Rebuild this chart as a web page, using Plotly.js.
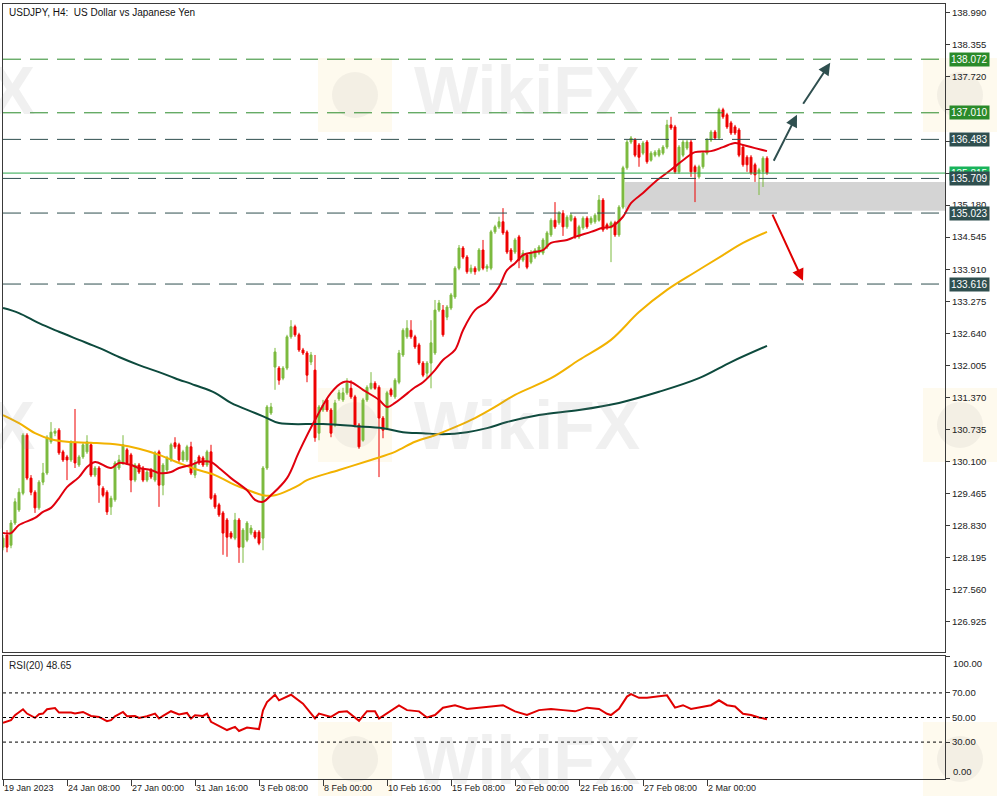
<!DOCTYPE html>
<html><head><meta charset="utf-8">
<script src="https://cdn.plot.ly/plotly-3.0.1.min.js"></script>
<style>body{margin:0;background:#fff}</style>
</head><body><div id="chart" style="width:1000px;height:800px"></div>
<script>
// ---- data ----
const openP = [
128.40,128.64,128.44,128.88,129.14,129.47,130.62,129.77,129.49,129.18,
129.69,129.87,130.49,130.66,130.72,130.29,130.19,130.13,130.47,130.03,
130.19,130.29,130.43,129.83,129.97,129.57,129.49,129.20,129.34,129.97,
130.07,130.33,130.23,129.73,130.03,129.97,129.73,129.93,129.73,130.29,
129.63,129.93,130.13,130.47,130.43,130.13,130.13,130.39,129.83,130.19,
130.17,130.03,130.29,129.43,129.24,129.08,128.94,128.68,128.58,128.94,
128.40,128.54,128.68,128.70,128.70,128.58,129.97,131.06,131.97,131.95,
131.75,131.95,132.57,132.77,132.61,132.31,132.25,132.07,131.91,130.66,
131.12,131.32,131.12,130.82,131.34,131.32,131.46,131.55,131.38,130.82,
130.52,131.32,131.55,131.65,131.57,130.96,130.76,131.52,131.38,131.67,
132.21,132.57,132.70,132.57,132.41,132.05,131.85,132.05,132.25,133.10,
133.10,132.96,133.14,133.36,133.93,134.33,134.15,133.86,133.93,133.89,
134.29,133.93,133.93,134.65,134.75,134.85,134.65,134.29,134.25,134.55,
134.09,134.19,134.05,134.15,134.23,134.23,134.35,134.59,134.88,134.83,
135.02,134.75,134.88,134.92,134.55,134.73,134.92,134.83,134.85,134.88,
135.28,134.79,134.73,134.83,134.59,135.14,135.92,136.43,136.47,136.37,
136.21,136.43,136.07,136.17,136.17,136.21,136.33,136.77,136.73,135.84,
136.17,136.31,136.43,135.94,135.74,135.94,136.21,136.47,136.63,136.51,
137.07,136.97,136.81,136.73,136.67,136.33,136.13,136.13,135.98,135.82,
135.84,136.11];
const highP = [
128.64,128.74,128.94,129.37,129.57,130.66,130.66,129.83,129.53,129.73,
130.07,130.62,130.88,130.76,130.76,130.33,130.23,130.52,131.14,130.23,
130.47,130.62,130.47,130.01,130.01,129.61,129.53,129.42,130.11,130.23,
130.62,130.37,130.27,130.07,130.07,130.01,129.93,129.97,130.31,130.33,
130.07,130.21,130.47,130.58,130.47,130.33,130.43,130.49,130.13,130.23,
130.21,130.33,130.43,129.47,129.28,129.12,128.98,128.72,129.08,128.98,
128.78,128.92,128.84,128.74,128.74,130.01,131.22,131.26,132.35,131.99,
131.99,132.61,132.90,132.81,132.65,132.35,132.29,132.27,132.21,131.22,
131.32,131.36,131.16,131.32,131.52,131.56,131.75,131.71,131.42,130.86,
131.36,131.61,131.87,131.69,131.61,131.00,131.50,131.56,131.75,132.31,
132.74,132.90,132.90,132.61,132.45,132.09,132.09,132.90,133.30,133.30,
133.20,133.20,133.44,133.97,134.39,134.37,134.19,134.00,133.97,134.33,
134.49,134.01,134.69,134.79,134.95,135.12,134.69,134.33,134.53,134.59,
134.29,134.23,134.29,134.33,134.39,134.53,134.67,134.92,135.24,135.06,
135.08,134.98,135.02,134.96,134.79,134.96,134.96,134.96,135.02,135.38,
135.32,134.83,134.87,134.87,135.18,135.96,136.47,136.55,136.51,136.41,
136.45,136.47,136.25,136.27,136.31,136.37,136.87,136.93,136.77,136.37,
136.47,136.47,136.47,135.98,135.98,136.25,136.51,136.67,136.67,137.11,
137.11,137.01,136.85,136.77,136.71,136.37,136.17,136.17,136.02,135.92,
136.15,136.15];
const lowP = [
128.34,128.30,128.38,128.84,129.10,129.43,129.73,129.43,129.08,129.14,
129.63,129.83,130.45,130.60,130.23,130.09,129.73,130.09,129.97,129.99,
130.15,130.25,129.79,129.79,129.28,129.39,129.04,129.04,129.30,129.93,
130.03,130.03,129.49,129.69,129.85,129.69,129.69,129.75,129.69,129.20,
129.43,129.89,130.09,130.35,130.09,130.09,130.09,129.83,129.77,130.03,
129.99,129.99,129.34,129.16,129.00,128.25,128.21,128.56,128.54,128.09,
128.09,128.50,128.64,128.56,128.44,128.34,129.93,131.02,131.52,131.62,
131.71,131.91,132.53,132.57,132.27,132.21,131.67,132.01,130.49,130.52,
131.08,131.08,130.58,130.78,131.30,131.28,131.42,131.34,130.78,130.35,
130.49,131.28,131.52,131.52,129.79,130.56,130.72,131.38,131.34,131.63,
132.17,132.53,132.53,132.33,132.01,131.77,131.75,131.55,132.21,133.06,
132.57,132.90,133.10,133.32,133.89,134.11,133.82,133.82,133.80,133.86,
133.89,133.86,133.89,134.61,134.71,134.59,134.21,134.05,134.21,133.93,
134.05,133.91,134.01,134.11,134.19,134.19,134.31,134.55,134.71,134.79,
134.57,134.71,134.85,134.51,134.51,134.69,134.71,134.79,134.81,134.85,
134.65,134.69,134.05,134.55,134.55,135.10,135.88,136.39,136.13,135.94,
136.17,136.00,136.04,136.13,136.13,136.17,136.29,136.67,135.80,135.80,
136.13,136.27,135.74,135.24,135.70,135.90,136.17,136.43,136.47,136.47,
136.89,136.69,136.57,136.57,136.13,135.94,135.84,135.78,135.64,135.38,
135.54,135.78];
const closeP = [
128.58,128.40,128.88,129.30,129.49,130.62,129.77,129.49,129.18,129.69,
129.87,130.58,130.68,130.70,130.27,130.13,130.13,130.47,130.07,130.19,
130.43,130.49,129.83,129.97,129.63,129.43,129.10,129.37,130.07,130.13,
130.43,130.07,129.73,130.03,129.89,129.73,129.89,129.79,130.27,129.63,
130.03,130.17,130.43,130.39,130.13,130.29,130.39,129.87,130.07,130.07,
130.03,130.29,129.37,129.20,129.04,128.68,128.60,128.60,128.94,128.40,
128.74,128.88,128.78,128.60,128.48,129.97,131.18,131.18,132.27,131.71,
131.95,132.57,132.77,132.61,132.31,132.25,131.81,132.21,130.57,131.18,
131.22,131.12,130.66,131.26,131.46,131.46,131.65,131.38,130.82,130.39,
131.32,131.57,131.65,131.55,130.96,130.72,131.46,131.42,131.71,132.25,
132.70,132.74,132.57,132.37,132.05,131.81,132.05,132.45,133.10,133.24,
132.61,133.16,133.40,133.93,134.33,134.15,133.86,133.93,133.86,134.29,
133.93,133.97,134.65,134.75,134.85,134.63,134.25,134.09,134.49,134.09,
134.23,133.95,134.23,134.29,134.35,134.49,134.63,134.88,134.75,135.02,
134.75,134.94,134.98,134.55,134.75,134.92,134.75,134.92,134.98,135.28,
134.69,134.73,134.83,134.59,135.14,135.92,136.43,136.51,136.17,136.13,
136.41,136.04,136.21,136.23,136.27,136.33,136.77,136.71,135.84,136.33,
136.43,136.43,135.84,135.84,135.94,136.21,136.47,136.63,136.51,137.07,
136.93,136.73,136.61,136.61,136.17,135.98,135.98,135.82,135.78,135.88,
136.11,135.82];

// moving averages
const maFastBars = [0,2,4,8,10,12,14,16,19,21,23,24,27,29,32,34,37,39,42,44,47,49,52,54,57,61,63,65,67,71,74,78,82,85,87,90,94,96,98,100,103,105,108,110,113,115,118,121,124,126,128,130,133,135,137,141,143,147,150,152,155,157,160,163,167,170,173,177,180,183,185,188,191];
const maFast = [128.68,128.68,128.84,128.98,129.10,129.18,129.37,129.59,129.79,129.99,130.09,130.07,129.97,130.07,130.03,129.97,129.93,129.87,129.89,129.97,130.03,130.09,130.09,129.97,129.77,129.53,129.34,129.30,129.43,129.77,130.29,130.92,131.46,131.67,131.67,131.52,131.32,131.18,131.26,131.38,131.57,131.67,131.91,132.11,132.31,132.70,133.10,133.26,133.56,133.89,134.03,134.19,134.25,134.29,134.43,134.49,134.55,134.65,134.73,134.75,134.95,135.22,135.42,135.64,135.88,136.07,136.23,136.25,136.33,136.41,136.37,136.31,136.25];
const maMidBars = [0,4,8,12,16,22,29,34,39,44,48,53,57,62,65,68,72,74,76,84,92,98,103,108,113,118,123,128,137,144,152,159,166,173,180,185,191];
const maMid = [131.02,130.86,130.66,130.54,130.49,130.47,130.43,130.35,130.23,130.07,129.95,129.83,129.67,129.51,129.43,129.43,129.55,129.63,129.73,129.93,130.13,130.29,130.49,130.62,130.78,130.96,131.18,131.42,131.75,132.11,132.51,133.06,133.50,133.85,134.19,134.43,134.65];
const maSlowBars = [0,4,9,14,19,24,29,34,39,43,48,53,57,63,66,69,80,88,95,100,105,110,116,121,126,134,144,154,164,174,182,191];
const maSlow = [133.14,133.04,132.84,132.67,132.51,132.35,132.17,132.01,131.87,131.75,131.61,131.46,131.26,131.06,130.96,130.86,130.84,130.80,130.76,130.68,130.66,130.64,130.68,130.76,130.88,131.02,131.12,131.26,131.48,131.75,132.07,132.39];

// RSI(20)
const rsiBars = [0,2,3,5,6,8,9,10,11,13,14,17,18,20,22,24,26,27,28,30,31,33,34,36,38,39,40,42,44,46,47,48,50,51,52,54,56,58,59,61,64,65,66,68,69,72,74,75,78,79,82,84,86,89,91,93,94,96,99,101,104,106,108,110,113,116,119,122,125,128,131,134,137,140,143,146,149,151,152,154,156,157,159,161,163,166,168,170,172,174,177,179,181,183,185,187,189,191];
const rsiVals = [45.6,47.8,51.9,56.7,53.2,49.7,52.7,53.2,56.7,57.7,54.0,54.0,53.2,54.5,51.3,50.5,47.0,47.8,51.0,54.5,51.0,51.3,49.7,51.0,53.2,49.2,51.3,55.1,52.4,53.7,49.2,51.9,51.3,53.2,46.5,43.2,39.8,42.4,39.0,41.9,40.6,55.9,62.6,68.5,64.0,68.5,64.0,61.3,49.2,53.2,50.5,54.5,55.1,47.3,55.1,55.1,49.2,53.7,59.9,56,55,50,52,58,60,57,58,59,60,55,52,56,57,56,55,58,57,53,52,57,67,69,66,66,67,68,58,60,57,58,60,64,60,59,53,52,50,48.65];

// levels
const levelPrices = [138.072, 137.010, 136.483, 135.709, 135.023, 133.616];
const levelColors = ['#2a8a2a', '#2a8a2a', '#2f4f4f', '#2f4f4f', '#2f4f4f', '#2f4f4f'];
const currentPrice = 135.815;
const zoneLow = 135.07, zoneHigh = 135.64, zoneStartBar = 155.5;

const priceTicks = [138.990,138.355,137.720,137.085,136.450,135.815,135.180,134.545,133.910,133.275,132.640,132.005,131.370,130.735,130.100,129.465,128.830,128.195,127.560,126.925];
const timeTickBars = [0,16,32,48,64,80,96,112,128,144,160,176];
const timeTickText = ['19 Jan 2023','24 Jan 08:00','27 Jan 00:00','31 Jan 16:00','3 Feb 08:00','8 Feb 00:00','10 Feb 16:00','15 Feb 08:00','20 Feb 00:00','22 Feb 16:00','27 Feb 08:00','2 Mar 00:00'];
const rsiTicks = [0,30,50,70,100];
const rsiTickText = ['', '30.00', '50.00', '70.00', ''];

// scenario arrows [tailBar, tailPrice, headBar, headPrice]
const upArrow1 = [192.5, 136.03, 198.5, 136.97];
const upArrow2 = [199.8, 137.16, 206.8, 138.00];
const downArrow = [192.2, 135.02, 200.0, 133.68];

// ---- chart ----
const bars = openP.map((_, i) => i);
const xEnd = 235.5;
const FONT = 'Liberation Sans, Arial, sans-serif';
const GREEN = '#7cba3f', RED = '#ee0000';

const traces = [
  {type:'scatter', mode:'lines', x:maSlowBars, y:maSlow, line:{color:'#0d4a3d', width:2, shape:'spline'}, xaxis:'x', yaxis:'y', hoverinfo:'skip'},
  {type:'scatter', mode:'lines', x:maMidBars, y:maMid, line:{color:'#f2b200', width:2, shape:'spline'}, xaxis:'x', yaxis:'y', hoverinfo:'skip'},
  {type:'candlestick', x:bars, open:openP, high:highP, low:lowP, close:closeP,
   increasing:{line:{color:GREEN, width:1}, fillcolor:GREEN},
   decreasing:{line:{color:RED, width:1}, fillcolor:RED},
   whiskerwidth:0, xaxis:'x', yaxis:'y', hoverinfo:'skip'},
  {type:'scatter', mode:'lines', x:maFastBars, y:maFast, line:{color:'#e0000e', width:2, shape:'spline'}, xaxis:'x', yaxis:'y', hoverinfo:'skip'},
  {type:'scatter', mode:'lines', x:rsiBars, y:rsiVals, line:{color:'#e00000', width:2}, xaxis:'x2', yaxis:'y2', hoverinfo:'skip'}
];

const shapes = [];
// watermark logos
[[318,58,392,132],[-287,58,-213,132],[923,58,997,132],[318,388,392,462],[-287,388,-213,462],[923,388,997,462],[318,722,392,796],[923,722,997,796]].forEach(r => {
  shapes.push({type:'rect', xref:'paper', yref:'paper', x0:(r[0]-3)/942, x1:(r[2]-3)/942, y0:(779-r[3])/775, y1:(779-r[1])/775,
    fillcolor:'rgba(252,232,170,0.2)', line:{width:0}, layer:'below'});
  shapes.push({type:'circle', xref:'paper', yref:'paper', x0:(r[0]+14-3)/942, x1:(r[2]-14-3)/942, y0:(779-r[3]+14)/775, y1:(779-r[1]-14)/775,
    fillcolor:'rgba(150,150,150,0.1)', line:{width:0}, layer:'below'});
});
shapes.push({type:'rect', xref:'x', yref:'y', x0:zoneStartBar, x1:xEnd, y0:zoneLow, y1:zoneHigh, fillcolor:'#d4d4d4', line:{width:0}, layer:'below'});
levelPrices.forEach((p, k) => shapes.push({type:'line', xref:'paper', yref:'y', x0:0, x1:1, y0:p, y1:p, line:{color:levelColors[k], width:1, dash:'18px,9px'}}));
shapes.push({type:'line', xref:'paper', yref:'y', x0:0, x1:1, y0:currentPrice, y1:currentPrice, line:{color:'#2aa84a', width:1}});
[70,50,30].forEach(v => shapes.push({type:'line', xref:'paper', yref:'y2', x0:0, x1:1, y0:v, y1:v, line:{color:'#000', width:1, dash:'3px,3px'}}));

const annotations = [];
// watermark texts
[[527,90],[-78,90],[527,425],[-78,425],[527,760]].forEach(c => annotations.push({
  xref:'paper', yref:'paper', x:(c[0]-3)/942, y:(779-c[1])/775, text:'<b>WikiFX</b>', showarrow:false,
  font:{family:FONT, size:68, color:'rgba(140,140,140,0.13)'}, xanchor:'center', yanchor:'middle'}));
annotations.push({xref:'paper', yref:'paper', x:0.004, y:1, xanchor:'left', yanchor:'top', yshift:-1, showarrow:false,
  text:'USDJPY, H4:\u00a0 US Dollar vs Japanese Yen', font:{family:FONT, size:10, color:'#111'}});
annotations.push({xref:'paper', yref:'paper', x:0.004, y:0.1587, xanchor:'left', yanchor:'top', yshift:-2, showarrow:false,
  text:'RSI(20) 48.65', font:{family:FONT, size:10, color:'#222'}});
// RSI end labels, nudged inside the panel as in the reference
annotations.push({xref:'paper', yref:'y2', x:1, y:100, xanchor:'left', yanchor:'top', xshift:6, showarrow:false,
  text:'100.00', font:{family:FONT, size:9.5, color:'#222'}});
annotations.push({xref:'paper', yref:'y2', x:1, y:0, xanchor:'left', yanchor:'bottom', xshift:6, showarrow:false,
  text:'0.00', font:{family:FONT, size:9.5, color:'#222'}});
// price boxes
const boxes = [[138.072,'#2a8a2a'],[137.010,'#2a8a2a'],[136.483,'#2f4f4f'],[currentPrice,'#19b35a'],[135.709,'#2f4f4f'],[135.023,'#2f4f4f'],[133.616,'#2f4f4f']];
boxes.forEach(b => annotations.push({xref:'paper', yref:'y', x:1, y:b[0], xanchor:'left', yanchor:'middle', xshift:4, showarrow:false,
  text:b[0].toFixed(3), bgcolor:b[1], borderpad:1, font:{family:FONT, size:10, color:'#fff'}}));
// arrows
[[upArrow1,'#2f4f4f'],[upArrow2,'#2f4f4f'],[downArrow,'#e00000']].forEach(a => annotations.push({
  xref:'x', yref:'y', axref:'x', ayref:'y', x:a[0][2], y:a[0][3], ax:a[0][0], ay:a[0][1], text:'', showarrow:true,
  arrowhead:2, arrowsize:1.2, arrowwidth:2, arrowcolor:a[1]}));

const axCommon = {showgrid:false, zeroline:false, showline:true, mirror:true, linecolor:'#3a3a3a', linewidth:1,
  tickfont:{family:FONT, size:9.5, color:'#222'}, tickcolor:'#3a3a3a', automargin:false};

const layout = {
  width:1000, height:800, margin:{l:3, r:55, t:4, b:21}, paper_bgcolor:'#fff', plot_bgcolor:'#fff',
  showlegend:false, dragmode:false,
  xaxis:Object.assign({}, axCommon, {domain:[0,1], anchor:'y', range:[0,xEnd], showticklabels:false, ticks:'', rangeslider:{visible:false}}),
  xaxis2:Object.assign({}, axCommon, {domain:[0,1], anchor:'y2', matches:'x', range:[0,xEnd], tickmode:'array', tickvals:timeTickBars, ticktext:timeTickText,
    tickfont:{family:FONT, size:9, color:'#222'}, ticks:'outside', ticklen:6, tickangle:0, ticklabelposition:'outside right', rangeslider:{visible:false}}),
  yaxis:Object.assign({}, axCommon, {domain:[0.1639,1], anchor:'x', range:[126.324,139.166], side:'right', tickmode:'array', tickvals:priceTicks,
    tickformat:'.3f', ticks:'outside', ticklen:4}),
  yaxis2:Object.assign({}, axCommon, {domain:[0,0.1587], anchor:'x2', range:[0,100], side:'right', tickmode:'array', tickvals:rsiTicks,
    ticktext:rsiTickText, ticks:'outside', ticklen:4}),
  shapes:shapes, annotations:annotations
};

Plotly.newPlot('chart', traces, layout, {staticPlot:true, displayModeBar:false});
</script></body></html>
